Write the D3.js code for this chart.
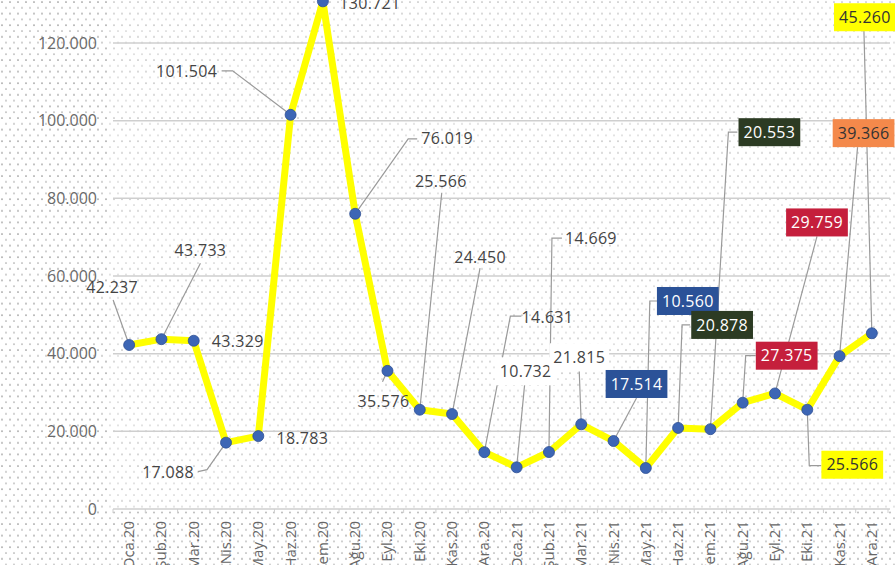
<!DOCTYPE html>
<html>
<head>
<meta charset="utf-8">
<script src="https://cdn.jsdelivr.net/npm/d3@7"></script>
<style>
  html, body { margin: 0; padding: 0; background: #fff; }
  svg { display: block; font-family: 'Open Sans', 'Noto Sans', sans-serif; }
</style>
</head>
<body>
<div id="chart"></div>
<script>
// --- Data ---
const months = ['Oca.20', 'Şub.20', 'Mar.20', 'Nis.20', 'May.20', 'Haz.20', 'Tem.20', 'Ağu.20',
    'Eyl.20', 'Eki.20', 'Kas.20', 'Ara.20', 'Oca.21', 'Şub.21', 'Mar.21', 'Nis.21',
    'May.21', 'Haz.21', 'Tem.21', 'Ağu.21', 'Eyl.21', 'Eki.21', 'Kas.21', 'Ara.21'];
const values = [42237, 43733, 43329, 17088, 18783, 101504, 130721, 76019,
    35576, 25566, 24450, 14631, 10732, 14669, 21815, 17514,
    10560, 20878, 20553, 27375, 29759, 25566, 39366, 45260];
const yTicks = [0, 20000, 40000, 60000, 80000, 100000, 120000];

// --- Label layout (offsets from each point, box style) ---
const boxColors = {
    none: null,
    white: { fill: '#fff', text: '#444' },
    yellow: { fill: '#ffff00', text: '#333' },
    orange: { fill: '#f4894b', text: '#333' },
    red: { fill: '#c51f3c', text: '#fff' },
    green: { fill: '#2c3b23', text: '#fff' },
    blue: { fill: '#2b5298', text: '#fff' }
};
const labelLayout = [
    { d: [-17, -58], box: 'none', leader: [[-16, -45]] },
    { d: [39, -89], box: 'none', leader: [[39, -76]] },
    { d: [44, 1], box: 'none', leader: [] },
    { d: [-58, 30], box: 'none', leader: [[-19, 27], [-28, 29]] },
    { d: [44, 2], box: 'none', leader: [] },
    { d: [-104, -43], box: 'none', leader: [[-58, -44], [-69, -44]] },
    { d: [47, 2], box: 'none', leader: [] },
    { d: [92, -75], box: 'none', leader: [[53, -75], [62, -75]] },
    { d: [-4, 31], box: 'none', leader: [[-5, 11]] },
    { d: [21, -228], box: 'none', leader: [[22, -217]] },
    { d: [28, -157], box: 'none', leader: [[28, -146]] },
    { d: [63, -135], box: 'none', leader: [[26, -136], [37, -136]] },
    { d: [9, -96], box: 'white', leader: [[8, -83]] },
    { d: [42, -214], box: 'none', leader: [[3, -214], [13, -214]] },
    { d: [-2, -67], box: 'white', leader: [[-2, -53]] },
    { d: [23, -57], box: 'blue', leader: [[23, -43]] },
    { d: [42, -167], box: 'blue', leader: [[4, -167], [12, -167]] },
    { d: [44, -103], box: 'green', leader: [[4, -103], [12, -103]] },
    { d: [59, -297], box: 'green', leader: [[18, -297], [27, -297]] },
    { d: [44, -47], box: 'red', leader: [[3, -47], [13, -47]] },
    { d: [42, -171], box: 'red', leader: [[42, -157]] },
    { d: [45, 55], box: 'yellow', leader: [[2, 56], [14, 56]] },
    { d: [24, -223], box: 'orange', leader: [[18, -209]] },
    { d: [-7, -316], box: 'yellow', leader: [[-8, -305]] }
];

const fmt = v => d3.format(',')(v).replace(/,/g, '.');

// --- Chart ---
const W = 895, H = 565;
const svg = d3.select('#chart').append('svg').attr('width', W).attr('height', H);

const defs = svg.append('defs');
function dotPattern(id, c1, c2) {
    const p = defs.append('pattern').attr('id', id)
        .attr('patternUnits', 'userSpaceOnUse').attr('width', 8).attr('height', 11.6);
    p.append('circle').attr('cx', 2).attr('cy', 2).attr('r', 0.9).attr('fill', c1);
    p.append('circle').attr('cx', 6).attr('cy', 7.8).attr('r', 0.9).attr('fill', c2);
}
dotPattern('dotsOuter', '#9a9a9a', '#b0b0b0');
dotPattern('dotsInner', '#bdbdbd', '#cfcfcf');

const plotL = 113, plotR = 888;
const x = d3.scalePoint().domain(months).range([plotL, plotR]).padding(0.5);
const y = d3.scaleLinear().domain([0, 120000]).range([509, 43]);

svg.append('rect').attr('width', W).attr('height', H).attr('fill', '#fff');
svg.append('rect').attr('width', W).attr('height', H).attr('fill', 'url(#dotsOuter)');
svg.append('rect').attr('x', 108).attr('y', 0).attr('width', W - 108).attr('height', 512)
    .attr('fill', '#fff');
svg.append('rect').attr('x', 108).attr('y', 0).attr('width', W - 108).attr('height', 512)
    .attr('fill', 'url(#dotsInner)');

// Gridlines
svg.append('g').selectAll('line').data(yTicks.filter(t => t > 0)).join('line')
    .attr('x1', plotL).attr('x2', plotR + 2)
    .attr('y1', d => y(d)).attr('y2', d => y(d))
    .attr('stroke', '#cfcfcf').attr('stroke-width', 1.5);

// Y axis labels
svg.append('g').selectAll('text').data(yTicks).join('text')
    .attr('x', 97).attr('y', d => y(d)).attr('dy', '0.35em')
    .attr('text-anchor', 'end')
    .style('font-size', '16px').style('fill', '#6a6a6a')
    .text(d => fmt(d));

// X axis
const xAxis = svg.append('g').attr('transform', `translate(0,${y(0)})`);
xAxis.append('line').attr('x1', plotL).attr('x2', plotR + 2)
    .attr('stroke', '#cfcfcf').attr('stroke-width', 1.5);
const step = x.step();
xAxis.selectAll('line.tick').data(months.concat(['_end'])).join('line')
    .attr('class', 'tick')
    .attr('x1', (d, i) => plotL + i * step).attr('x2', (d, i) => plotL + i * step)
    .attr('y1', 0).attr('y2', 4)
    .attr('stroke', '#cfcfcf');
xAxis.selectAll('text').data(months).join('text')
    .attr('transform', d => `translate(${x(d) + 5},12) rotate(-90)`)
    .attr('text-anchor', 'end')
    .style('font-size', '15px').style('fill', '#666')
    .text(d => d);

const pts = values.map((v, i) => ({ v, i, px: x(months[i]), py: y(v) }));

// Leader lines
svg.append('g').selectAll('polyline').data(pts.filter(p => labelLayout[p.i].leader.length))
    .join('polyline')
    .attr('points', p => [[0, 0]].concat(labelLayout[p.i].leader)
        .map(o => (p.px + o[0]) + ',' + (p.py + o[1])).join(' '))
    .attr('fill', 'none').attr('stroke', '#9a9a9a').attr('stroke-width', 1.2);

// Line
const line = d3.line().x(p => p.px).y(p => p.py);
svg.append('path').datum(pts).attr('d', line)
    .attr('fill', 'none').attr('stroke', '#ffff00')
    .attr('stroke-width', 7).attr('stroke-linejoin', 'round');

// Points
svg.append('g').selectAll('circle').data(pts).join('circle')
    .attr('cx', p => p.px).attr('cy', p => p.py).attr('r', 5.5)
    .attr('fill', '#3d66b5').attr('stroke', '#2d4f94').attr('stroke-width', 0.8);

// Labels
const lab = svg.append('g').selectAll('g').data(pts).join('g')
    .attr('transform', p => `translate(${p.px + labelLayout[p.i].d[0]},${p.py + labelLayout[p.i].d[1]})`);
lab.append('text')
    .attr('text-anchor', 'middle').attr('dy', '0.35em')
    .style('font-size', '16px').style('letter-spacing', '0.3px')
    .style('fill', p => { const b = boxColors[labelLayout[p.i].box]; return b ? b.text : '#444'; })
    .text(p => fmt(p.v));
lab.each(function(p) {
    const b = boxColors[labelLayout[p.i].box];
    if (!b) return;
    const g = d3.select(this);
    const bb = g.select('text').node().getBBox();
    const padX = b.fill === '#fff' ? 4 : 5;
    g.insert('rect', 'text')
        .attr('x', bb.x - padX).attr('y', -14)
        .attr('width', bb.width + padX * 2).attr('height', 28)
        .attr('fill', b.fill);
});
</script>
</body>
</html>
